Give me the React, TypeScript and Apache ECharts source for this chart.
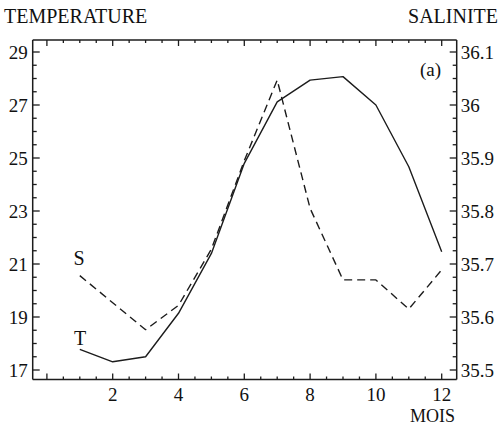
import React, { useEffect, useRef } from "react";
import * as echarts from "echarts";

const months = [1, 2, 3, 4, 5, 6, 7, 8, 9, 10, 11, 12];
const temperature = [17.78, 17.31, 17.5, 19.14, 21.4, 24.8, 27.12, 27.94, 28.07, 27.0, 24.67, 21.46];
const salinity = [35.678, 35.627, 35.576, 35.622, 35.728, 35.895, 36.047, 35.805, 35.67, 35.67, 35.615, 35.689];
const monthTicks = [0, 0.5, 1, 1.5, 2, 2.5, 3, 3.5, 4, 4.5, 5, 5.5, 6, 6.5, 7, 7.5, 8, 8.5, 9, 9.5, 10, 10.5, 11, 11.5, 12];
const monthMajor = [0, 2, 4, 6, 8, 10, 12];
const tempTicks = [17, 17.5, 18, 18.5, 19, 19.5, 20, 20.5, 21, 21.5, 22, 22.5, 23, 23.5, 24, 24.5, 25, 25.5, 26, 26.5, 27, 27.5, 28, 28.5, 29];
const tempMajor = [17, 19, 21, 23, 25, 27, 29];
const titles = { left: "TEMPERATURE", right: "SALINITE", x: "MOIS", panel: "(a)" };

const FONT = "Liberation Serif";
const INK = "#1c1c1c";
const FRAME = { L: 32.7, R: 456.7, T: 40, B: 379.5 };

export default function App() {
  const ref = useRef<HTMLDivElement>(null);
  useEffect(() => {
    if (!ref.current) return;
    const chart = echarts.init(ref.current, undefined, { renderer: "svg" });
    const labelStyle = { color: "#111", fontFamily: FONT, fontSize: 19 };
    const ts = (size: number) => ({ color: "#111", fontFamily: FONT, fontSize: size, fontWeight: "normal" });
    const tickStyle = { stroke: INK, lineWidth: 1.3 };
    chart.setOption({
      animation: false,
      backgroundColor: "#fff",
      title: [
        { text: titles.left, left: 4, top: 6, padding: 0, textStyle: ts(20) },
        { text: titles.right, right: 4, top: 6, padding: 0, textStyle: ts(20) },
        { text: titles.x, right: 47, top: 407, padding: 0, textStyle: ts(18) },
        { text: titles.panel, left: 420, top: 60, padding: 0, textStyle: ts(19) },
        { text: "S", left: 73.5, top: 248, padding: 0, textStyle: ts(20) },
        { text: "T", left: 74, top: 328, padding: 0, textStyle: ts(20) },
      ],
      grid: { left: 46.9, right: 60.3, top: 52, bottom: 59, show: false },
      xAxis: [
        {
          type: "value", position: "bottom", min: 0, max: 12, interval: 2, offset: 9.5,
          axisLine: { show: false, onZero: false },
          axisTick: { show: false },
          splitLine: { show: false },
          axisLabel: { ...labelStyle, margin: 5, formatter: (v: number) => (v === 0 ? "" : String(v)) },
        },
      ],
      yAxis: [
        {
          type: "value", position: "left", min: 17, max: 29, interval: 2, offset: 14.2,
          axisLine: { show: false, onZero: false },
          axisTick: { show: false },
          splitLine: { show: false },
          axisLabel: { ...labelStyle, margin: 5 },
        },
        {
          type: "value", position: "right", min: 35.5, max: 36.1, interval: 0.1, offset: 15,
          axisLine: { show: false, onZero: false },
          axisTick: { show: false },
          splitLine: { show: false },
          axisLabel: { ...labelStyle, margin: 4 },
        },
      ],
      series: [
        {
          type: "line", name: "T", data: months.map((m, i) => [m, temperature[i]]),
          showSymbol: false, lineStyle: { color: INK, width: 1.4 },
        },
        {
          type: "line", name: "S", yAxisIndex: 1, data: months.map((m, i) => [m, salinity[i]]),
          showSymbol: false, lineStyle: { color: INK, width: 1.4, type: [8, 5] },
        },
        {
          type: "custom",
          name: "xticks",
          silent: true,
          clip: false,
          data: monthTicks.map((v) => [v, 17, monthMajor.includes(v) ? 1 : 0]),
          renderItem: (params: any, api: any) => {
            const p = api.coord([api.value(0), api.value(1)]);
            const len = api.value(2) ? 6 : 3;
            return {
              type: "group",
              children: [
                { type: "line", shape: { x1: p[0], y1: FRAME.B, x2: p[0], y2: FRAME.B - len }, style: tickStyle },
                { type: "line", shape: { x1: p[0], y1: FRAME.T, x2: p[0], y2: FRAME.T + len }, style: tickStyle },
              ],
            };
          },
        },
        {
          type: "custom",
          name: "yticks",
          silent: true,
          clip: false,
          data: tempTicks.map((v) => [0, v, tempMajor.includes(v) ? 1 : 0]),
          renderItem: (params: any, api: any) => {
            const p = api.coord([api.value(0), api.value(1)]);
            const len = api.value(2) ? 7 : 4;
            return {
              type: "group",
              children: [
                { type: "line", shape: { x1: FRAME.L, y1: p[1], x2: FRAME.L + len, y2: p[1] }, style: tickStyle },
                { type: "line", shape: { x1: FRAME.R, y1: p[1], x2: FRAME.R - len, y2: p[1] }, style: tickStyle },
              ],
            };
          },
        },
      ],
      graphic: [
        { type: "line", shape: { x1: FRAME.L, y1: FRAME.T, x2: FRAME.R, y2: FRAME.T }, style: { stroke: INK, lineWidth: 1.5 } },
        { type: "line", shape: { x1: FRAME.L, y1: FRAME.B, x2: FRAME.R, y2: FRAME.B }, style: { stroke: INK, lineWidth: 1.5 } },
        { type: "line", shape: { x1: FRAME.L, y1: FRAME.T, x2: FRAME.L, y2: FRAME.B }, style: { stroke: INK, lineWidth: 1.5 } },
        { type: "line", shape: { x1: FRAME.R, y1: FRAME.T, x2: FRAME.R, y2: FRAME.B }, style: { stroke: INK, lineWidth: 1.5 } },
      ],
    });
    return () => chart.dispose();
  }, []);
  return (
    <div
      ref={ref}
      style={{ position: "absolute", left: 0, top: 0, width: 502, height: 429, background: "#fff" }}
    />
  );
}
